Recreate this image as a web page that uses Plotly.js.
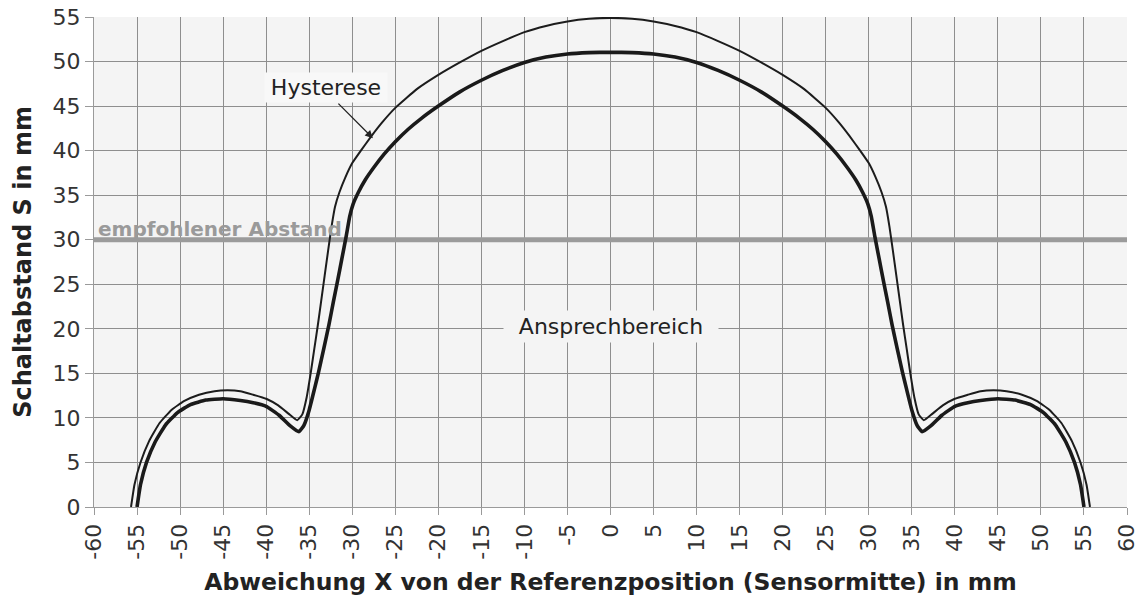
<!DOCTYPE html>
<html>
<head>
<meta charset="utf-8">
<script src="https://cdn.plot.ly/plotly-3.0.1.min.js"></script>
<style>html,body{margin:0;padding:0;background:#fff;}#chart{width:1144px;height:604px;}</style>
</head>
<body>
<div id="chart"></div>
<script>
// Inner curve (Ansprechbereich, thick)
const innerX = [-55.0,-54.6,-53.9,-52.9,-51.7,-50.3,-48.8,-47.0,-45.0,-43.0,-41.5,-40.0,-38.5,-37.2,-36.2,-35.6,-35.0,-34.4,-33.9,-33.3,-32.7,-32.2,-31.7,-31.2,-30.7,-30.3,-29.9,-29.3,-28.5,-27.5,-26.3,-25.0,-23.5,-22.0,-20.0,-17.5,-15.0,-12.5,-10.0,-7.5,-5.0,-2.5,
  0,
  2.5,5.0,7.5,10.0,12.5,15.0,17.5,20.0,22.0,23.5,25.0,26.3,27.5,28.5,29.3,29.9,30.3,30.7,31.2,31.7,32.2,32.7,33.3,33.9,34.4,35.0,35.6,36.2,37.2,38.5,40.0,41.5,43.0,45.0,47.0,48.8,50.3,51.7,52.9,53.9,54.6,55.0];
const innerY = [0,2.5,5.0,7.3,9.2,10.6,11.5,12.0,12.15,11.95,11.7,11.3,10.3,9.1,8.45,9.2,10.9,13.2,15.2,17.8,20.5,23.0,25.4,27.9,30.4,32.6,34.0,35.3,36.7,38.1,39.6,41.0,42.4,43.6,45.0,46.6,47.9,49.0,49.9,50.5,50.85,51.0,
  51.05,
  51.0,50.85,50.5,49.9,49.0,47.9,46.6,45.0,43.6,42.4,41.0,39.6,38.1,36.7,35.3,34.0,32.6,30.4,27.9,25.4,23.0,20.5,17.8,15.2,13.2,10.9,9.2,8.45,9.1,10.3,11.3,11.7,11.95,12.15,12.0,11.5,10.6,9.2,7.3,5.0,2.5,0];
// Outer curve (Hysterese, thin)
const outerX = [-55.7,-55.3,-54.6,-53.6,-52.4,-51.0,-49.5,-47.8,-46.0,-44.5,-43.0,-41.5,-40.0,-38.6,-37.3,-36.4,-35.8,-35.3,-34.8,-34.4,-34.0,-33.6,-33.2,-32.8,-32.4,-32.0,-31.5,-30.8,-30.0,-29.0,-27.8,-26.5,-25.0,-22.5,-20.0,-17.5,-15.0,-12.5,-10.0,-7.5,-5.0,-2.5,
  0,
  2.5,5.0,7.5,10.0,12.5,15.0,17.5,20.0,22.5,25.0,26.5,27.8,29.0,30.0,30.8,31.5,32.0,32.4,32.8,33.2,33.6,34.0,34.4,34.8,35.3,35.8,36.4,37.3,38.6,40.0,41.5,43.0,44.5,46.0,47.8,49.5,51.0,52.4,53.6,54.6,55.3,55.7];
const outerY = [0,2.5,5.0,7.4,9.4,10.9,11.9,12.6,13.0,13.1,13.0,12.6,12.15,11.4,10.4,9.75,10.4,12.3,15.2,17.8,20.4,23.2,26.0,28.8,31.5,33.7,35.3,37.0,38.6,40.0,41.6,43.2,44.8,46.9,48.5,49.9,51.2,52.3,53.3,54.0,54.5,54.8,
  54.9,
  54.8,54.5,54.0,53.3,52.3,51.2,49.9,48.5,46.9,44.8,43.2,41.6,40.0,38.6,37.0,35.3,33.7,31.5,28.8,26.0,23.2,20.4,17.8,15.2,12.3,10.4,9.75,10.4,11.4,12.15,12.6,13.0,13.1,13.0,12.6,11.9,10.9,9.4,7.4,5.0,2.5,0];
// Recommended distance
const recX = [-60, 60];
const recY = [30, 30];
// Ticks
const xTickVals = [-60,-55,-50,-45,-40,-35,-30,-25,-20,-15,-10,-5,0,5,10,15,20,25,30,35,40,45,50,55,60];
const xTickText = ["-60","-55","-50","-45","-40","-35","-30","-25","-20","-15","-10","-5","0","5","10","15","20","25","30","35","40","45","50","55","60"];
const yTickVals = [0,5,10,15,20,25,30,35,40,45,50,55];
const yTickText = ["0","5","10","15","20","25","30","35","40","45","50","55"];

const FONT = "DejaVu Sans, Liberation Sans, Arial, sans-serif";
const gridColor = "#8e8e8e";
const axisColor = "#9a9a9a";

const traces = [
  {x: recX, y: recY, mode: "lines", line: {color: "#9b9b9b", width: 5}, hoverinfo: "skip"},
  {x: outerX, y: outerY, mode: "lines", line: {color: "#1c1c1c", width: 2, shape: "spline", smoothing: 0.4}},
  {x: innerX, y: innerY, mode: "lines", line: {color: "#1a1a1a", width: 3.6, shape: "spline", smoothing: 0.4}}
];

const layout = {
  width: 1144, height: 604,
  margin: {l: 94, r: 17, t: 17, b: 97},
  paper_bgcolor: "#ffffff",
  plot_bgcolor: "#f4f4f4",
  showlegend: false,
  font: {family: FONT, color: "#333"},
  xaxis: {
    range: [-60, 60], tickmode: "array", tickvals: xTickVals, ticktext: xTickText,
    tickangle: -90, ticks: "outside", ticklen: 7, tickcolor: axisColor, tickwidth: 1,
    tickfont: {family: FONT, size: 22, color: "#333"},
    showgrid: true, gridcolor: gridColor, gridwidth: 1,
    showline: true, linecolor: axisColor, linewidth: 1, mirror: false, zeroline: false,
    title: {text: "Abweichung X von der Referenzposition (Sensormitte) in mm", font: {family: FONT, size: 23.5, color: "#222", weight: "bold"}, standoff: 14},
    automargin: false
  },
  yaxis: {
    range: [0, 55], tickmode: "array", tickvals: yTickVals, ticktext: yTickText,
    ticks: "outside", ticklen: 8, tickcolor: axisColor, tickwidth: 1,
    tickfont: {family: FONT, size: 22, color: "#333"},
    showgrid: true, gridcolor: gridColor, gridwidth: 1,
    showline: true, linecolor: axisColor, linewidth: 1, zeroline: false,
    title: {text: "Schaltabstand S in mm", font: {family: FONT, size: 24, color: "#222", weight: "bold"}, standoff: 14},
    automargin: false
  },
  annotations: [
    {x: -60, y: 30, xref: "x", yref: "y", xanchor: "left", yanchor: "bottom", xshift: 2, yshift: -3,
     text: "empfohlener Abstand", showarrow: false, font: {family: FONT, size: 20, color: "#9a9a9a", weight: "bold"}},
    {x: -33.1, y: 47.1, xref: "x", yref: "y", text: "Hysterese", showarrow: false,
     font: {family: FONT, size: 22, color: "#222"}, bgcolor: "#f8f8f8", borderpad: 2, width: 118},
    {x: -27.6, y: 41.4, xref: "x", yref: "y", text: "", showarrow: true, ax: -36, ay: -36,
     arrowhead: 2, arrowsize: 1.2, arrowwidth: 1.3, arrowcolor: "#222"},
    {x: 0.1, y: 20.3, xref: "x", yref: "y", text: "Ansprechbereich", showarrow: false,
     font: {family: FONT, size: 22, color: "#222"}, bgcolor: "#f4f4f4", borderpad: 3, width: 208}
  ]
};

Plotly.newPlot("chart", traces, layout, {staticPlot: true, displayModeBar: false});
</script>
</body>
</html>
